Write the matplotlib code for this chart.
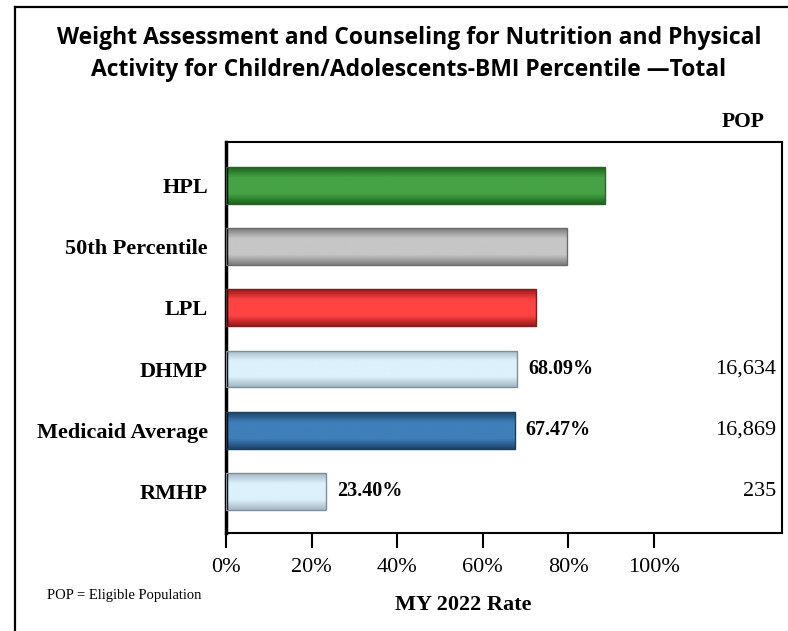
import numpy as np
import matplotlib; matplotlib.use("Agg")
import matplotlib.pyplot as plt
from matplotlib.colors import LinearSegmentedColormap
from matplotlib.lines import Line2D
from matplotlib.transforms import blended_transform_factory

# chart data
categories = ["HPL", "50th Percentile", "LPL", "DHMP", "Medicaid Average", "RMHP"]
rates = [88.56, 79.68, 72.51, 68.09, 67.47, 23.40]
show_label = [False, False, False, True, True, True]
pop = [None, None, None, "16,634", "16,869", "235"]
ticks = [0, 20, 40, 60, 80, 100]
tick_labels = ["0%", "20%", "40%", "60%", "80%", "100%"]
title = ("Weight Assessment and Counseling for Nutrition and Physical\n"
         "Activity for Children/Adolescents-BMI Percentile \u2014Total")
xlabel = "MY 2022 Rate"
footnote = "POP = Eligible Population"

# (edge, middle) shades for the gradient fill of each bar
SHADES = [("#1c641c", "#45a345"), ("#7c7c7c", "#c6c6c6"), ("#9c1818", "#ff4343"),
          ("#a3b8c4", "#dcf1fb"), ("#1b456c", "#3f7fba"), ("#a3b8c4", "#dcf1fb")]
EDGES = ["#2e5e2e", "#6a6a6a", "#7a2020", "#7f8f99", "#1d3c5a", "#7f8f99"]

SERIF = "Liberation Serif"
fig = plt.figure(figsize=(7.88, 6.31), dpi=100)
ax = fig.add_axes([226/788, 1-533/631, (782-226)/788, (533-142)/631])

y = np.arange(len(categories))
bars = ax.barh(y, rates, height=0.6, color="none", edgecolor=EDGES, linewidth=1.0, zorder=3)
grad = np.linspace(0, 1, 80)[:, None]
for b, (edge, mid) in zip(bars, SHADES):
    cm = LinearSegmentedColormap.from_list("g", [(0, edge), (0.28, mid), (0.72, mid), (1, edge)])
    x0, y0, w, h = b.get_x(), b.get_y(), b.get_width(), b.get_height()
    im = ax.imshow(grad, extent=[x0, x0 + w, y0 + h, y0], cmap=cm, aspect="auto",
                   origin="upper", zorder=2, interpolation="bicubic")
    im.set_clip_path(b)

ax.set_xlim(0, 130)
ax.set_ylim(len(categories) - 1 + 0.68, -0.71)
ax.set_xticks(ticks)
ax.set_xticklabels(tick_labels, fontsize=16, family=SERIF)
ax.tick_params(axis="x", direction="out", length=11, width=1.5, pad=7)
ax.set_yticks(y)
ax.set_yticklabels(categories, fontsize=16, fontweight="bold", family=SERIF)
ax.tick_params(axis="y", length=0, pad=13)
for s in ax.spines.values():
    s.set_linewidth(1.5)
ax.spines["left"].set_linewidth(2.5)

pop_tr = blended_transform_factory(fig.transFigure, ax.transData)
for yi, v, sl, p in zip(y, rates, show_label, pop):
    if sl:
        ax.annotate(f"{v:.2f}%", (v, yi), xytext=(8, 0), textcoords="offset points",
                    va="center", ha="left", fontsize=14.5, fontweight="bold", family=SERIF)
    if p:
        ax.text(776/788, yi, p, transform=pop_tr, ha="right", va="center", fontsize=16, family=SERIF)

fig.text(743/788, 1-122/631, "POP", ha="center", va="center", fontsize=15.5, fontweight="bold", family=SERIF)
fig.text(409/788, 1-54/631, title, ha="center", va="center", fontsize=16.5, fontweight="bold",
         family="Open Sans", linespacing=1.5)
fig.text(463/788, 1-605/631, xlabel, ha="center", va="center", fontsize=16, fontweight="bold", family=SERIF)
fig.text(47/788, 1-595/631, footnote, ha="left", va="center", fontsize=10.5, family=SERIF)

# outer frame (left and top edges visible)
fig.add_artist(Line2D([15/788, 15/788], [0, 1-7/631], color="black", lw=1.6, transform=fig.transFigure))
fig.add_artist(Line2D([15/788, 1], [1-7/631, 1-7/631], color="black", lw=1.6, transform=fig.transFigure))

fig.savefig("out.png", dpi=100)
